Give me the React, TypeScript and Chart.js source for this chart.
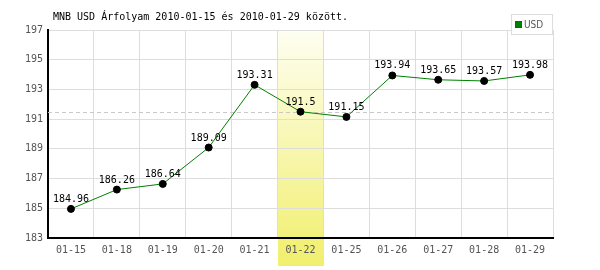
import React, { useEffect, useRef } from "react";
import { Chart, registerables } from "chart.js";

Chart.register(...registerables);

const categories = ["01-15", "01-18", "01-19", "01-20", "01-21", "01-22", "01-25", "01-26", "01-27", "01-28", "01-29"];
const usdValues = [184.96, 186.26, 186.64, 189.09, 193.31, 191.5, 191.15, 193.94, 193.65, 193.57, 193.98];
const dataLabels = ["184.96", "186.26", "186.64", "189.09", "193.31", "191.5", "191.15", "193.94", "193.65", "193.57", "193.98"];
const highlightIndex = 5;
const referenceValue = 191.5;
const titleText = "MNB USD Árfolyam 2010-01-15 és 2010-01-29 között.";
const seriesName = "USD";
const yMin = 183;
const yMax = 197;
const yStep = 2;

const MONO = "'DejaVu Sans Mono', monospace";

const customPlugin = {
  id: "custom",
  beforeDraw(chart: any) {
    const { ctx, chartArea, scales } = chart;
    const x = scales.x;
    const cx = x.getPixelForValue(highlightIndex);
    const w = (chartArea.right - chartArea.left) / categories.length;
    const top = chartArea.top - 1;
    const bottom = chart.height - 4;
    const g = ctx.createLinearGradient(0, top, 0, bottom);
    g.addColorStop(0, "#fefef2");
    g.addColorStop(1, "#f1ef6c");
    ctx.save();
    ctx.fillStyle = g;
    ctx.fillRect(Math.round(cx - w / 2), top, Math.round(w), bottom - top);
    ctx.restore();
  },
  beforeDatasetsDraw(chart: any) {
    const { ctx, chartArea, scales } = chart;
    const y = scales.y;
    const ry = Math.round(y.getPixelForValue(referenceValue)) + 0.5;
    ctx.save();
    ctx.strokeStyle = "#c8c8c8";
    ctx.lineWidth = 1;
    ctx.setLineDash([4, 3]);
    ctx.beginPath();
    ctx.moveTo(chartArea.left, ry);
    ctx.lineTo(chartArea.right, ry);
    ctx.stroke();
    ctx.restore();
  },
  afterDraw(chart: any) {
    const { ctx } = chart;
    const meta = chart.getDatasetMeta(0);
    ctx.save();
    ctx.font = "10px " + MONO;
    ctx.fillStyle = "#000";
    ctx.textAlign = "center";
    ctx.textBaseline = "alphabetic";
    meta.data.forEach((pt: any, i: number) => {
      ctx.fillText(dataLabels[i], pt.x, pt.y - 7);
    });
    ctx.textAlign = "left";
    ctx.textBaseline = "middle";
    ctx.fillText(titleText, 53, 17);
    const lx = 511.5, ly = 14.5, lw = 41, lh = 20;
    ctx.fillStyle = "#fff";
    ctx.fillRect(lx, ly, lw, lh);
    ctx.strokeStyle = "#dddddd";
    ctx.lineWidth = 1;
    ctx.strokeRect(lx, ly, lw, lh);
    ctx.fillStyle = "#008000";
    ctx.fillRect(516, 22, 6, 6);
    ctx.strokeStyle = "#444";
    ctx.strokeRect(515.5, 21.5, 6, 6);
    ctx.fillStyle = "#555";
    ctx.font = "10px 'DejaVu Sans Condensed', 'DejaVu Sans', sans-serif";
    ctx.fillText(seriesName, 524, 25);
    ctx.restore();
  },
};

export default function App() {
  const ref = useRef<HTMLCanvasElement | null>(null);
  useEffect(() => {
    document.body.style.margin = "0";
    const chart = new Chart(ref.current as HTMLCanvasElement, {
      type: "line",
      data: {
        labels: categories,
        datasets: [
          {
            label: seriesName,
            data: usdValues,
            borderColor: "#008000",
            borderWidth: 1,
            pointBackgroundColor: "#000",
            pointBorderColor: "#000",
            pointRadius: 3.5,
            pointBorderWidth: 1,
            tension: 0,
          },
        ],
      },
      options: {
        animation: false,
        responsive: false,
        layout: { padding: { left: 0, top: 30, right: 47, bottom: 0 } },
        plugins: { legend: { display: false }, tooltip: { enabled: false }, title: { display: false } },
        scales: {
          x: {
            offset: true,
            grid: { color: "#dddddd", offset: true, drawTicks: false },
            border: { color: "#000", width: 2 },
            ticks: { color: "#555", font: { family: MONO, size: 10 }, padding: 6, maxRotation: 0 },
            afterFit: (s: any) => { s.height = 32; },
          },
          y: {
            min: yMin,
            max: yMax,
            grid: { color: "#dddddd", drawTicks: false },
            border: { color: "#000", width: 2 },
            ticks: { stepSize: yStep, color: "#555", font: { family: MONO, size: 10 }, padding: 5 },
            afterFit: (s: any) => { s.width = 48; },
          },
        },
      },
      plugins: [customPlugin],
    });
    return () => chart.destroy();
  }, []);
  return <canvas ref={ref} width={600} height={270} style={{ display: "block" }} />;
}
